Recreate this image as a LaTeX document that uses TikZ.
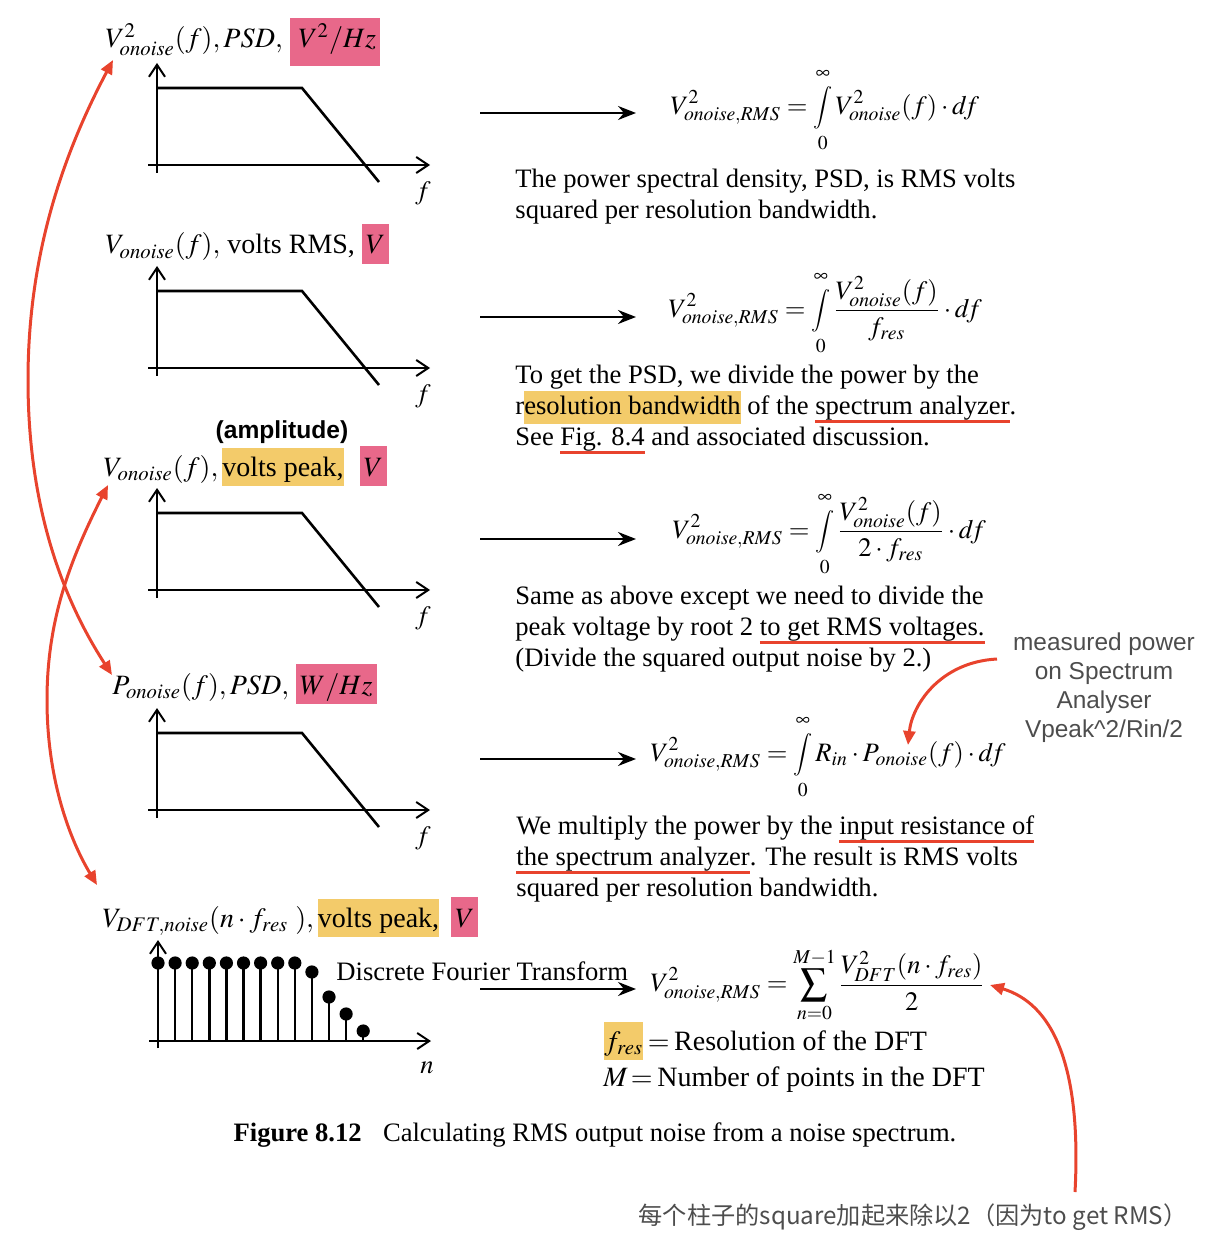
\documentclass[tikz,border=0pt]{standalone}
\usepackage{mathptmx}
\usepackage{fontspec}
\setmainfont{Liberation Serif}
\newfontfamily\annotfont{Liberation Sans}
\newfontfamily\cjkfont{Noto Sans CJK SC}
\usepackage{xcolor}
\usetikzlibrary{arrows.meta}
\usetikzlibrary{positioning}

\definecolor{hlpink}{HTML}{E8688A}
\definecolor{hlyellow}{HTML}{F3CB6A}
\definecolor{annred}{HTML}{E8432D}
\definecolor{anngray}{HTML}{4D4D4D}

\newsavebox\ulbox
\newcommand\pinkhl[2][0pt]{{\setlength\fboxsep{0pt}\colorbox{hlpink}{\hspace{2pt}\rule[\dimexpr-5pt-#1\relax]{0pt}{\dimexpr20pt+#1\relax}#2\hspace{2pt}}}}
\newcommand\yellowhl[2][19pt]{{\setlength\fboxsep{0pt}\colorbox{hlyellow}{\rule[-5pt]{0pt}{#1}#2}}}
\newcommand\redul[1]{\sbox\ulbox{#1}\rlap{\textcolor{annred}{\rule[-4.4pt]{\wd\ulbox}{1.2pt}}}\usebox\ulbox}
\newcommand\intlim{\mathop{\vcenter{\hbox{\raisebox{0pt}[\dimexpr\height+1.5pt\relax][\dimexpr\depth+1.5pt\relax]{\scalebox{0.8}{$\displaystyle\int$}}}}}\limits}

\begin{document}
\begin{tikzpicture}[x=0.5pt,y=-0.5pt,
  every node/.style={inner sep=0pt,font=\fontsize{13.3}{15.5}\selectfont},
  title/.style={anchor=base west,font=\fontsize{14}{16}\selectfont},
  axis/.style={line width=1pt,-{Straight Barb[length=6pt,width=8pt]}},
  curve/.style={line width=1.3pt},
  flow/.style={line width=1pt,-{Stealth[length=9pt,width=7pt,inset=3pt]}},
  annarrow/.style={annred,line width=1.5pt,-{Triangle[length=7pt,width=6pt]}},
  both/.style={annred,line width=1.5pt,{Triangle[length=7pt,width=6pt]}-{Triangle[length=7pt,width=6pt]}},
  body/.style={anchor=base west,align=left},
  formula/.style={anchor=west},
  annot/.style={font=\fontsize{12.2}{14.5}\selectfont\annotfont,text=anngray,align=center}]
  \useasboundingbox (0,0) rectangle (1204,1256);

  % panel titles
  \node[title] (t1) at (105,48) {$V^2_{onoise}(f), PSD,$\ \pinkhl[4pt]{\,$V^2/Hz$}};
  \node[title] (t2) at (105,254) {$V_{onoise}(f),$ volts RMS,\ \pinkhl{$V$}};
  \node[title] (t3) at (103,476) {$V_{onoise}(f),$\hspace{2pt}\yellowhl{volts peak,}\hspace{8pt}\pinkhl{$V$}};
  \node[title] (t4) at (112,694) {$P_{onoise}(f), PSD,$\ \pinkhl{$W/Hz$}};
  \node[title] (t5) at (102,927) {$V_{DFT,noise}(n\cdot f_{res}\ ),$\hspace{2pt}\yellowhl{volts peak,}\hspace{6pt}\pinkhl{$V$}};
  \node[font=\fontsize{12.3}{14}\selectfont\annotfont\bfseries] (amp) at (282,432) {(amplitude)};

  % spectra
  \foreach \y [count=\n] in {165,368,590,810} {
    \draw[axis] (148,\y) -- (430,\y);
    \draw[axis] (157,\y+8) -- (157,\y-102);
    \draw[curve] (157,\y-77) -- (302,\y-77) -- (379,\y+17);
    \node (f\n) at (423,\y+28) {$f$};
  }

  % DFT stems
  \draw[axis] (149,1041) -- (431,1041);
  \draw[axis] (158,1048) -- (158,940);
  \foreach \h [count=\k from 0] in {963,963,963,963,963,963,963,963,963,972,997,1014,1031} {
    \draw[line width=1.2pt] (158+17.1*\k,1041) -- (158+17.1*\k,\h) coordinate (p\k);
    \fill (p\k) circle (3.3pt);
  }
  \node (nlab) at (427,1068) {$n$};
  \node[anchor=base west] (dft) at (336,980) {Discrete Fourier Transform};

  % arrows to the formulas
  \foreach \y [count=\n] in {113,317,539,759,989} {
    \coordinate (s\n) at (480,\y);
    \coordinate (e\n) at (636,\y);
    \draw[flow] (s\n) -- (e\n);
  }

  % formulas
  \node[formula] (eq1) at (670,110) {$\displaystyle V^2_{onoise,RMS} = \intlim_0^\infty V^2_{onoise}(f)\cdot d\!f$};
  \node[formula] (eq2) at (668,313) {$\displaystyle V^2_{onoise,RMS} = \intlim_0^\infty \frac{V^2_{onoise}(f)}{f_{res}}\cdot d\!f$};
  \node[formula] (eq3) at (672,534) {$\displaystyle V^2_{onoise,RMS} = \intlim_0^\infty \frac{V^2_{onoise}(f)}{2\cdot f_{res}}\cdot d\!f$};
  \node[formula] (eq4) at (650,757) {$\displaystyle V^2_{onoise,RMS} = \intlim_0^\infty R_{in}\cdot P_{onoise}(f)\cdot d\!f$};
  \node[formula] (eq5) at (650,985) {$\displaystyle V^2_{onoise,RMS} = \sum_{n=0}^{M-1}\frac{V^2_{DFT}(n\cdot f_{res})}{2}$};

  % explanations (base = last line)
  \node[body] (d1) at (515,219) {The power spectral density, PSD, is RMS volts\\squared per resolution bandwidth.};
  \node[body] (d2) at (515,445) {To get the PSD, we divide the power by the\\r\yellowhl[16.5pt]{esolution bandwidth} of the \redul{spectrum analyzer}.\\See \redul{Fig. 8.4} and associated discussion.};
  \node[body] (d3) at (515,666) {Same as above except we need to divide the\\peak voltage by root 2 \redul{to get RMS voltages.}\\(Divide the squared output noise by 2.)};
  \node[body] (d4) at (516,896) {We multiply the power by the \redul{input resistance of}\\\redul{the spectrum analyzer}. The result is RMS volts\\squared per resolution bandwidth.};
  \node[title] (fres) at (604,1050) {\yellowhl{$f_{res}$}\,$=$\,Resolution of the DFT};
  \node[title] (mpts) at (603,1086) {$M\!=$\,Number of points in the DFT};
  \node[anchor=base] (cap) at (595,1141) {\textbf{Figure 8.12}\hspace{0.8em}Calculating RMS output noise from a noise spectrum.};

  % notes
  \node[annot] (meas) at (1104,688) {measured power\\on Spectrum\\Analyser\\Vpeak\textasciicircum2/Rin/2};
  \node[font=\fontsize{12.1}{14}\selectfont\cjkfont,text=anngray] (cjk) at (913,1217) {每个柱子的square加起来除以2（因为to get RMS）};

  \coordinate (m1) at (997,659);
  \coordinate (m2) at (908,745);
  \draw[annarrow] (m1) .. controls (940,662) and (912,705) .. (m2);
  \coordinate (c1) at (1075,1192);
  \coordinate (c2) at (990,985);
  \draw[annarrow] (c1) .. controls (1082,1060) and (1050,1003) .. (c2);

  \coordinate (l1a) at (113,60);
  \coordinate (l1b) at (112,675);
  \draw[both] (l1a) .. controls (60,160) and (28,260) .. (28,380) .. controls (28,520) and (70,610) .. (l1b);
  \coordinate (l2a) at (108,485);
  \coordinate (l2b) at (97,885);
  \draw[both] (l2a) .. controls (70,560) and (47,620) .. (47,700) .. controls (47,780) and (70,840) .. (l2b);
\end{tikzpicture}
\end{document}
